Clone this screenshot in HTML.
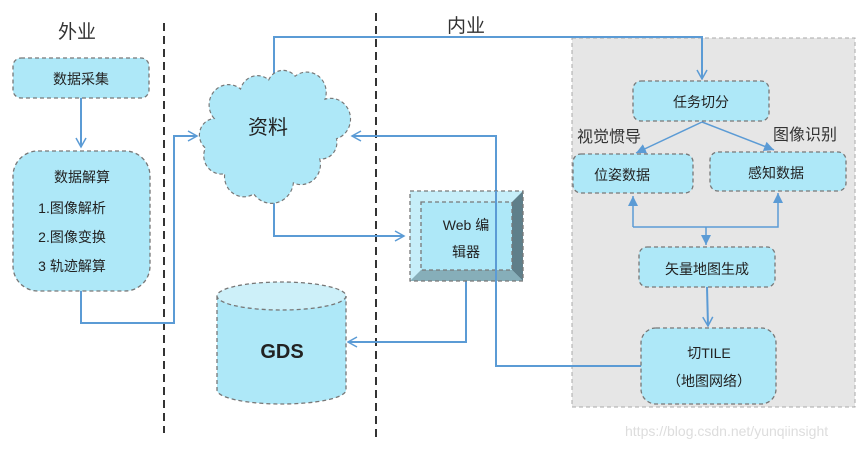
<!DOCTYPE html>
<html><head><meta charset="utf-8"><style>
body{margin:0;background:#fff;}
svg{display:block;font-family:"Liberation Sans","Noto Sans CJK SC",sans-serif;}
</style></head><body>
<svg width="866" height="449" viewBox="0 0 866 449" xmlns="http://www.w3.org/2000/svg">
<defs>
<marker id="a" markerWidth="12" markerHeight="12" refX="10" refY="6" orient="auto" markerUnits="userSpaceOnUse"><path d="M1,1 L10,6 L1,11" fill="none" stroke="#5b9bd5" stroke-width="1.5"/></marker>
<marker id="t" markerWidth="12" markerHeight="12" refX="10" refY="6" orient="auto" markerUnits="userSpaceOnUse"><path d="M0,1 L10,6 L0,11 Z" fill="#5b9bd5"/></marker>
</defs>
<rect x="572" y="38" width="283" height="369" fill="#e6e6e6" stroke="#aaa" stroke-dasharray="4,3"/>
<line x1="164" y1="23" x2="164" y2="433" stroke="#333" stroke-width="2" stroke-dasharray="8,5"/>
<line x1="376" y1="13" x2="376" y2="440" stroke="#333" stroke-width="2" stroke-dasharray="8,5"/>
<text x="58" y="38" font-size="19" fill="#333">外业</text>
<text x="447" y="32" font-size="19" fill="#333">内业</text>

<g fill="none" stroke="#5b9bd5" stroke-width="2">
<path d="M81,98 V147" marker-end="url(#a)"/>
<path d="M81,291 V323 H174 V136 H197" marker-end="url(#a)"/>
<path d="M274,75 V37 H702 V79" marker-end="url(#a)"/>
<path d="M641,366 H496 V136 H352" marker-end="url(#a)"/>
<path d="M274,202 V236 H404" marker-end="url(#a)"/>
<path d="M466,281 V342 H348" marker-end="url(#a)"/>
<path d="M702,122 L636,153" marker-end="url(#t)" stroke-width="1.5"/>
<path d="M702,122 L774,150" marker-end="url(#t)" stroke-width="1.5"/>
<path d="M633,227 V196" marker-end="url(#t)" stroke-width="1.5"/>
<path d="M633,227 H778 V193" marker-end="url(#t)" stroke-width="1.5"/>
<path d="M706,227 V245" marker-end="url(#t)" stroke-width="1.5"/>
<path d="M707,287 L708,326" marker-end="url(#a)"/>
</g>

<g fill="#aee8f8" stroke="#777" stroke-width="1.3" stroke-dasharray="4,3">
<rect x="13" y="58" width="136" height="40" rx="8"/>
<rect x="13" y="151" width="137" height="140" rx="25"/>
<path transform="translate(274,136) scale(0.88,0.92) translate(-278,-137)" d="M210,118 A22,22 0 0 1 240,86 A20,20 0 0 1 272,76 A18,18 0 0 1 302,72 A22,22 0 0 1 336,97 A20,20 0 0 1 349,140 A18,18 0 0 1 330,162 A22,22 0 0 1 300,188 A25,25 0 0 1 255,200 A22,22 0 0 1 222,178 A20,20 0 0 1 200,150 A18,18 0 0 1 210,118 Z"/>
<rect x="633" y="81" width="136" height="40" rx="8"/>
<rect x="573" y="154" width="120" height="39" rx="8"/>
<rect x="710" y="152" width="136" height="39" rx="8"/>
<rect x="639" y="247" width="136" height="40" rx="8"/>
<rect x="641" y="328" width="135" height="76" rx="15"/>
</g>
<path d="M217,296 V390 A64.5,14 0 0 0 346,390 V296" fill="#aee8f8" stroke="#777" stroke-width="1.3" stroke-dasharray="4,3"/>
<ellipse cx="281.5" cy="296" rx="64.5" ry="14" fill="#cdf0f9" stroke="#777" stroke-width="1.3" stroke-dasharray="4,3"/>
<rect x="410" y="191" width="113" height="90" fill="#c6eef9"/>
<polygon points="512,202 523,191 523,281 512,270" fill="#5f7f8a"/>
<polygon points="421,270 512,270 523,281 410,281" fill="#86aeb9"/>
<rect x="421" y="202" width="91" height="68" fill="#aee8f8" stroke="#777" stroke-width="1.3" stroke-dasharray="4,3"/>
<rect x="410" y="191" width="113" height="90" fill="none" stroke="#777" stroke-width="1.3" stroke-dasharray="4,3"/>
<line x1="496" y1="191" x2="496" y2="281" stroke="#5b9bd5" stroke-width="2"/>

<g fill="#222" font-size="14" text-anchor="middle">
<text x="81" y="84">数据采集</text>
<text x="82" y="182">数据解算</text>
<text x="72" y="213">1.图像解析</text>
<text x="72" y="242">2.图像变换</text>
<text x="72" y="271">3 轨迹解算</text>
<text x="268" y="134" font-size="20">资料</text>
<text x="282" y="358" font-size="20" font-weight="bold">GDS</text>
<text x="466" y="230">Web 编</text>
<text x="466" y="257">辑器</text>
<text x="701" y="107">任务切分</text>
<text x="622" y="180">位姿数据</text>
<text x="776" y="178">感知数据</text>
<text x="707" y="274">矢量地图生成</text>
<text x="709" y="358">切TILE</text>
<text x="709" y="386">（地图网络）</text>
</g>
<text x="577" y="142" font-size="16" fill="#333">视觉惯导</text>
<text x="773" y="140" font-size="16" fill="#333">图像识别</text>
<text x="625" y="436" font-size="14" fill="#ddd">https://blog.csdn.net/yunqiinsight</text>
</svg>
</body></html>
